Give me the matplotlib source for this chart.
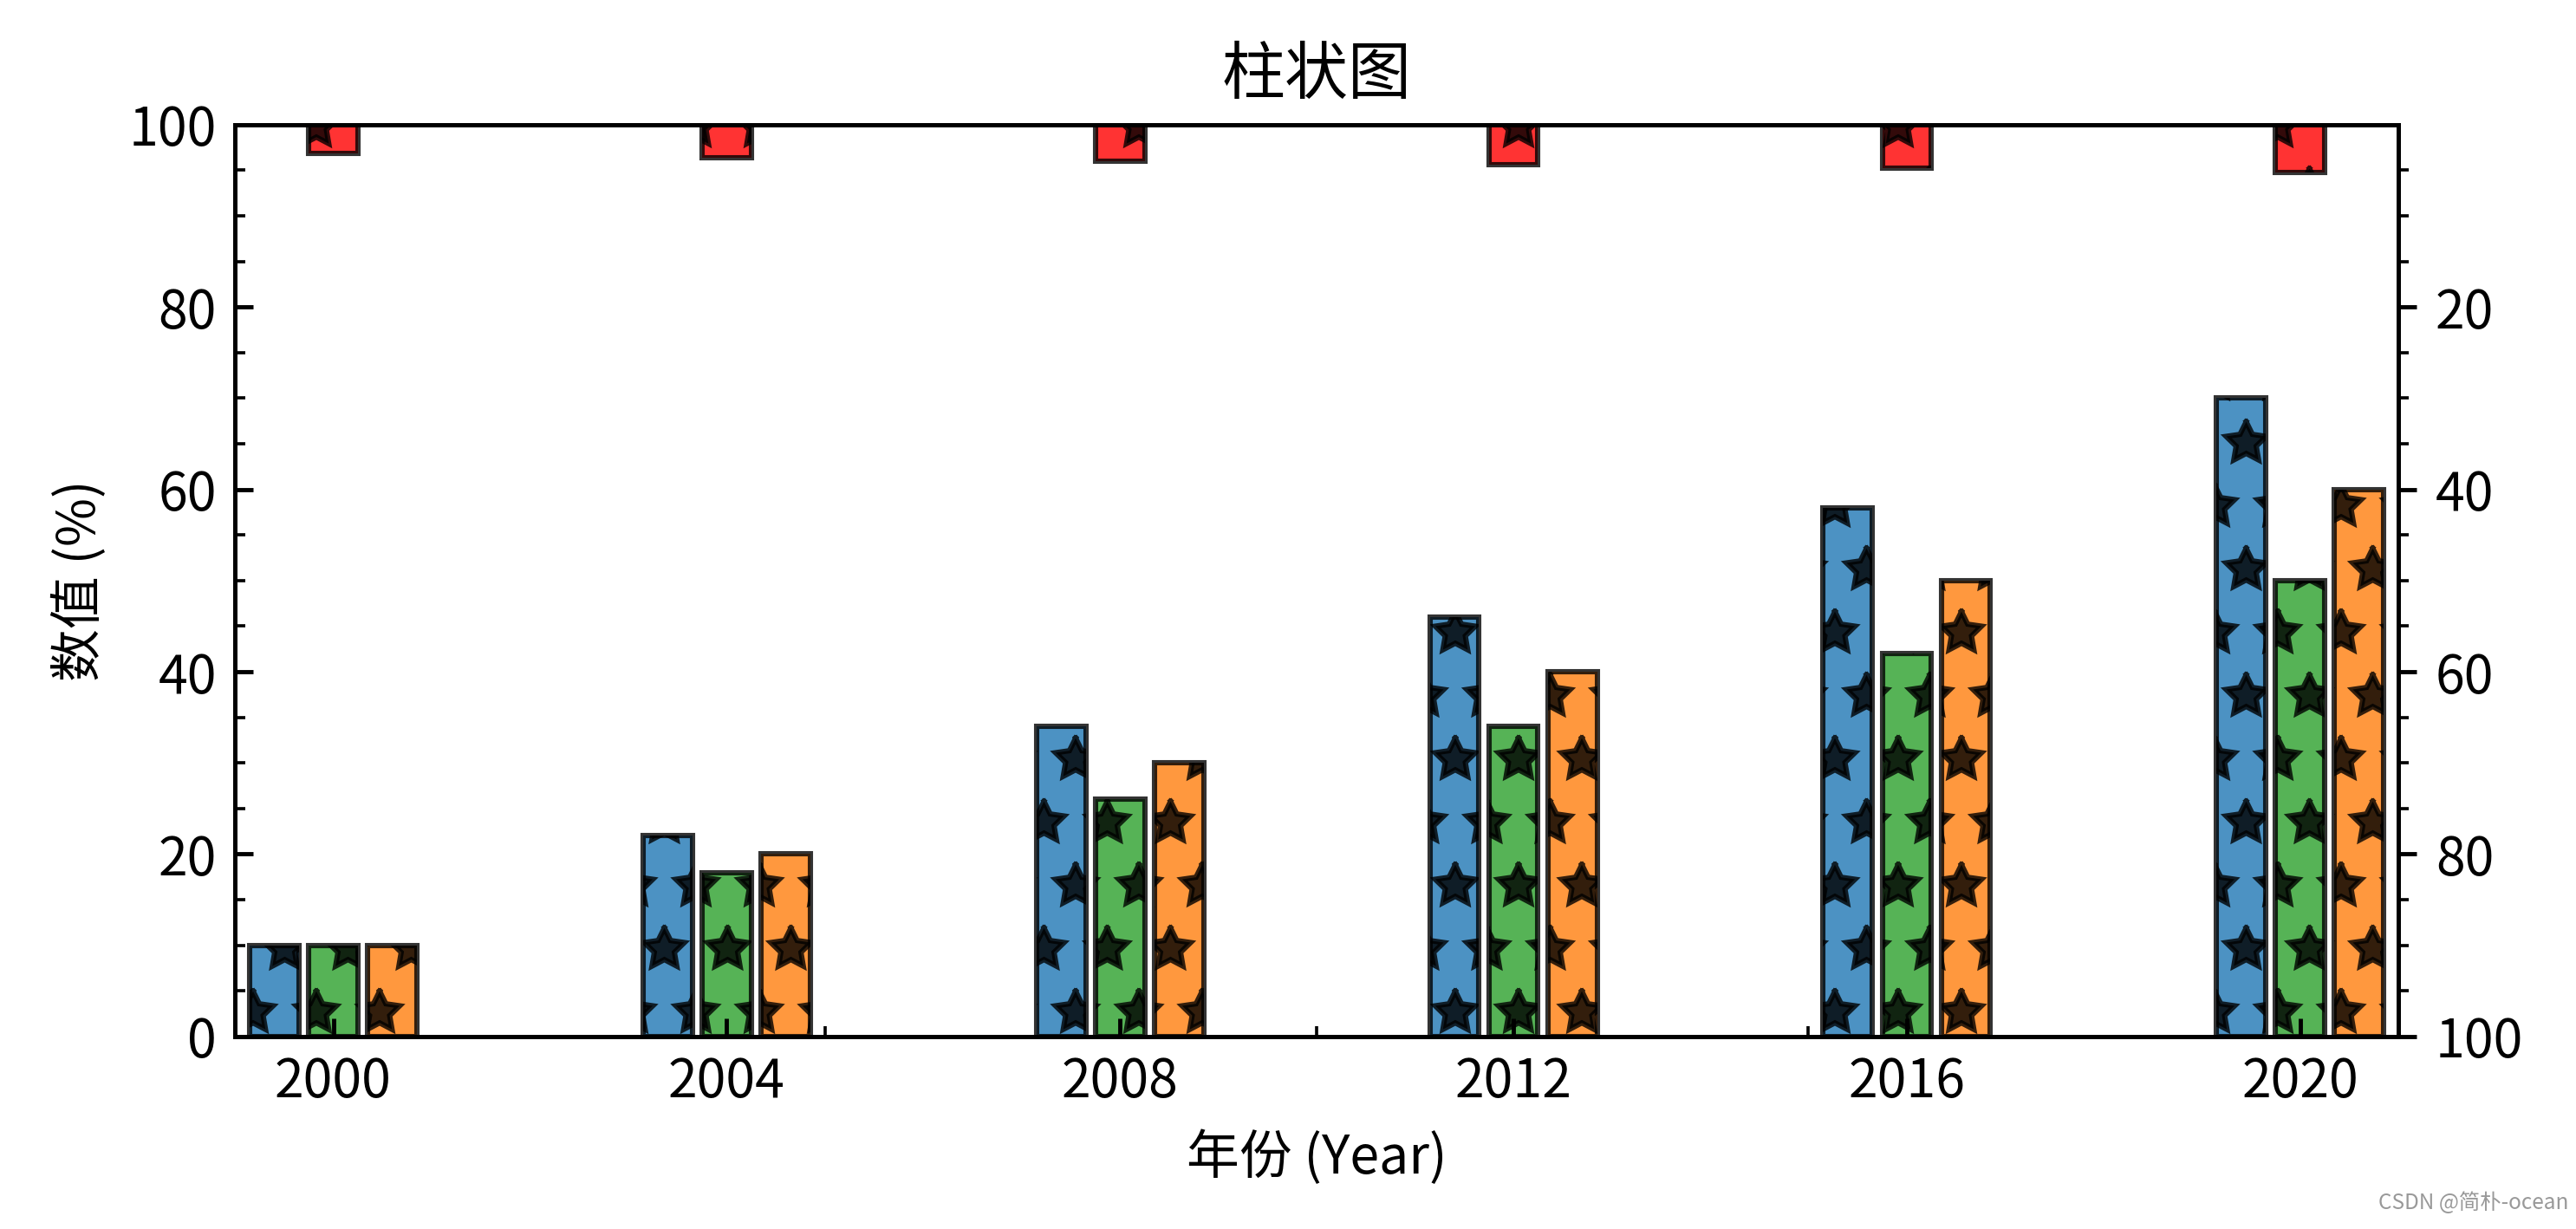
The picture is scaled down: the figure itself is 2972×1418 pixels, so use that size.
import matplotlib
matplotlib.use('Agg')
import matplotlib.pyplot as plt
from matplotlib.ticker import MultipleLocator, FixedLocator

plt.rcParams['font.family'] = ['Noto Sans CJK SC', 'DejaVu Sans']
plt.rcParams['axes.unicode_minus'] = False
plt.rcParams['font.size'] = 10

# data
years = [2000, 2004, 2008, 2012, 2016, 2020]
blue_vals = [10, 22, 34, 46, 58, 70]
green_vals = [10, 18, 26, 34, 42, 50]
orange_vals = [10, 20, 30, 40, 50, 60]
red_vals = [3.2, 3.6, 4.0, 4.4, 4.8, 5.2]   # on the inverted right axis
right_ticks = [20, 40, 60, 80, 100]

dpi = 438
fig = plt.figure(figsize=(2972.3 / dpi, 1418.3 / dpi), dpi=dpi)
ax = fig.add_axes([0.0912, 0.1566, 0.9310 - 0.0912, 0.8984 - 0.1566])

w = 0.5
off = 0.6
x = list(years)
ax.bar([v - off for v in x], blue_vals, width=w, color='#1f77b4', edgecolor='k',
       alpha=0.8, hatch='*', linewidth=1.0)
ax.bar(x, green_vals, width=w, color='#2ca02c', edgecolor='k',
       alpha=0.8, hatch='*', linewidth=1.0)
ax.bar([v + off for v in x], orange_vals, width=w, color='#ff7f0e', edgecolor='k',
       alpha=0.8, hatch='*', linewidth=1.0)

ax.set_xlim(1999, 2021)
ax.set_ylim(0, 100)
ax.set_xticks(years)
ax.xaxis.set_minor_locator(MultipleLocator(5))
ax.yaxis.set_major_locator(MultipleLocator(20))
ax.yaxis.set_minor_locator(MultipleLocator(5))
ax.tick_params(which='both', direction='in', top=False, right=False)
ax.set_xlabel('年份 (Year)')
ax.set_ylabel('数值 (%)')
ax.set_title('柱状图')

ax2 = ax.twinx()
ax2.bar(x, red_vals, width=w, color='red', edgecolor='k',
        alpha=0.8, hatch='*', linewidth=1.0)
ax2.set_ylim(100, 0)
ax2.yaxis.set_major_locator(FixedLocator(right_ticks))
ax2.yaxis.set_minor_locator(FixedLocator([v for v in range(5, 100, 5) if v % 20 != 0]))

fig.text(0.997, 0.012, 'CSDN @简朴-ocean', ha='right', va='bottom',
         fontsize=4, color='#999999')

fig.savefig('out.png', dpi=dpi)
